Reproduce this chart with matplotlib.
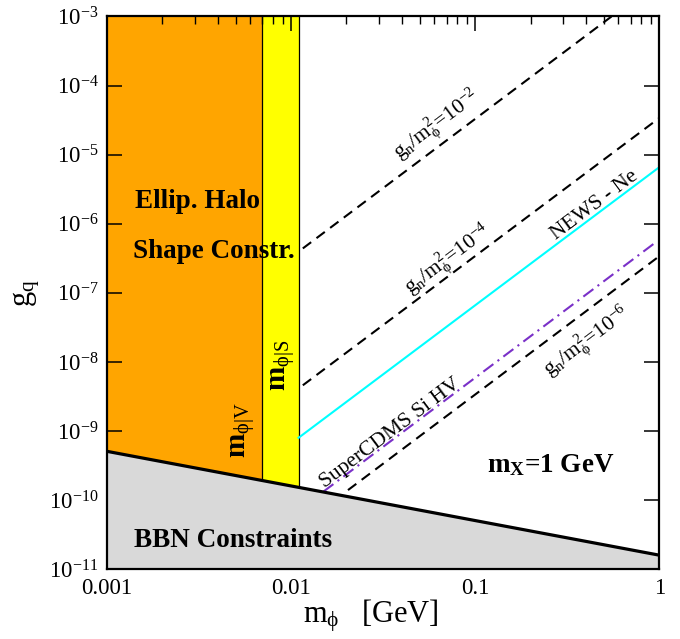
import numpy as np
import matplotlib
matplotlib.use('Agg')
import matplotlib.pyplot as plt
from matplotlib.ticker import FixedLocator, FixedFormatter, NullLocator, LogLocator, LogFormatterSciNotation

plt.rcParams['font.family'] = ['Liberation Serif', 'DejaVu Serif']
plt.rcParams['mathtext.fontset'] = 'custom'
plt.rcParams['mathtext.rm'] = 'Liberation Serif'
plt.rcParams['mathtext.it'] = 'Liberation Serif:italic'
plt.rcParams['mathtext.bf'] = 'Liberation Serif:bold'
plt.rcParams['mathtext.default'] = 'regular'

# ---------------- data ----------------
x_ticks = [0.001, 0.01, 0.1, 1.0]
x_tick_labels = ['0.001', '0.01', '0.1', '1']
y_ticks = [1e-11, 1e-10, 1e-9, 1e-8, 1e-7, 1e-6, 1e-5, 1e-4, 1e-3]

ellip_m = [0.001, 0.007]          # orange band (m_phi|V)
scalar_m = [0.007, 0.011]         # yellow band (m_phi|S)

bbn_m = [0.001, 1.0]
bbn_g = [5.1e-10, 1.6e-11]

gn2_m = [0.0116, 0.55]
gn2_g = [4.4e-7, 1e-3]
gn4_m = [0.0116, 1.0]
gn4_g = [4.6e-9, 3.4e-5]
gn6_m = [0.0204, 1.0]
gn6_g = [1.4e-10, 3.4e-7]

news_m = [0.011, 1.0]
news_g = [8.0e-10, 6.6e-6]

cdms_m = [0.015, 0.96]
cdms_g = [1.33e-10, 5.44e-7]

xlim = (0.001, 1.0)
ylim = (1e-11, 1e-3)

# ---------------- figure ----------------
fig = plt.figure(figsize=(6.8, 6.39), dpi=100)
ax = fig.add_axes([0.157, 0.1091, 0.8126, 0.8651])
ax.set_xscale('log')
ax.set_yscale('log')
ax.set_xlim(*xlim)
ax.set_ylim(*ylim)

ax.axvspan(ellip_m[0], ellip_m[1], color='#FFA500', lw=0, zorder=1)
ax.axvspan(scalar_m[0], scalar_m[1], color='#FFFF00', lw=0, zorder=1)
ax.axvline(ellip_m[1], color='black', lw=0.9, zorder=1.5)
ax.axvline(scalar_m[1], color='black', lw=0.9, zorder=1.5)

ax.fill_between(bbn_m, ylim[0], bbn_g, color='#D9D9D9', lw=0, zorder=2)
ax.plot(bbn_m, bbn_g, color='black', lw=2.3, zorder=4, solid_capstyle='butt')

dash = (0, (5.0, 3.2))
ax.plot(gn2_m, gn2_g, color='black', lw=1.5, ls=dash, zorder=3)
ax.plot(gn4_m, gn4_g, color='black', lw=1.5, ls=dash, zorder=3)
ax.plot(gn6_m, gn6_g, color='black', lw=1.5, ls=dash, zorder=3)
ax.plot(news_m, news_g, color='#00FFFF', lw=1.5, zorder=3)
ax.plot(cdms_m, cdms_g, color='#7A30C8', lw=1.5, ls=(0, (6, 2.5, 1, 2.5)), zorder=3)

# ---------------- text ----------------
def angle_of(m, g):
    p = ax.transData.transform(np.column_stack([m, g]))
    d = p[1] - p[0]
    return np.degrees(np.arctan2(d[1], d[0]))

ax.text(0.0031, 2.1e-6, 'Ellip. Halo', fontsize=19.5, fontweight='bold', ha='center', va='center', zorder=5)
ax.text(0.0038, 4.0e-7, 'Shape Constr.', fontsize=19.5, fontweight='bold', ha='center', va='center', zorder=5)
ax.text(0.00485, 2.6e-11, 'BBN Constraints', fontsize=19.5, fontweight='bold', ha='center', va='center', zorder=5)
ax.text(0.258, 3.2e-10, r'm$_{\mathbf{X}}$=1 GeV', fontsize=19.5, fontweight='bold', ha='center', va='center', zorder=5)

ax.text(0.0055, 1.04e-9, r'$\mathbf{m}_{\phi|V}$', fontsize=21, rotation=90, ha='center', va='center', zorder=5)
ax.text(0.00906, 9.0e-9, r'$\mathbf{m}_{\phi|S}$', fontsize=21, rotation=90, ha='center', va='center', zorder=5)

ang = angle_of(gn4_m, gn4_g)
kw = dict(ha='center', va='center', rotation=ang, rotation_mode='anchor', zorder=5)
ax.text(0.0614, 2.7e-5, r'$g_n/m_\phi^2$=10$^{-2}$', fontsize=15.5, **kw)
ax.text(0.0714, 3.0e-7, r'$g_n/m_\phi^2$=10$^{-4}$', fontsize=15.5, **kw)
ax.text(0.405, 1.95e-8, r'$g_n/m_\phi^2$=10$^{-6}$', fontsize=15.5, **kw)
ax.text(0.447, 1.86e-6, 'NEWS - Ne', fontsize=15.5, **kw)
ax.text(0.0345, 9.4e-10, 'SuperCDMS Si HV', fontsize=15.5, **kw)

# ---------------- axes styling ----------------
ax.xaxis.set_major_locator(FixedLocator(x_ticks))
ax.xaxis.set_major_formatter(FixedFormatter(x_tick_labels))
ax.xaxis.set_minor_locator(LogLocator(base=10, subs=np.arange(2, 10)))
ax.yaxis.set_major_locator(FixedLocator(y_ticks))
ax.yaxis.set_major_formatter(LogFormatterSciNotation())
ax.yaxis.set_minor_locator(NullLocator())

ax.tick_params(which='both', direction='in', top=True, right=True, colors='black')
ax.tick_params(which='major', length=11, width=1.1, labelsize=16.5)
ax.tick_params(which='minor', length=5.5, width=1.0)
ax.tick_params(axis='x', which='major', pad=6)
ax.tick_params(axis='y', which='major', pad=6)
for s in ax.spines.values():
    s.set_linewidth(1.6)
    s.set_zorder(6)

ax.set_xlabel(r'$m_\phi\ \ \ $[GeV]', fontsize=22)
ax.set_ylabel(r'$g_q$', fontsize=22)
ax.xaxis.set_label_coords(0.478, -0.05, transform=ax.transAxes)
ax.xaxis.label.set_va('top')
ax.yaxis.set_label_coords(-0.118, 0.5)

fig.savefig('out.png', dpi=100)
